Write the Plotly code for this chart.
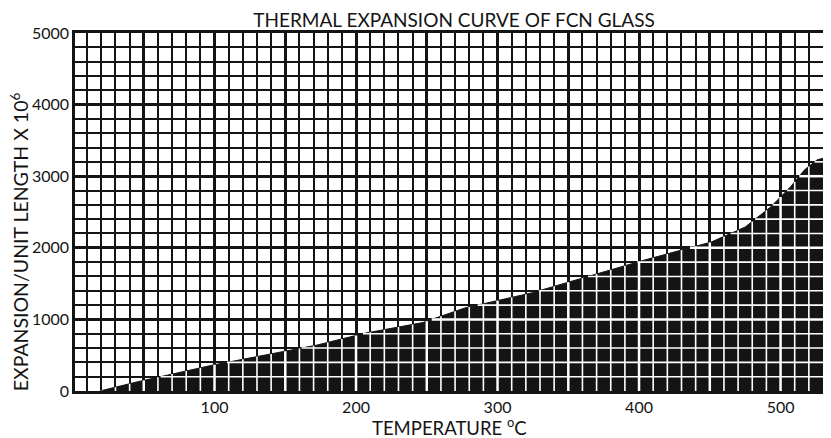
import numpy as np
import plotly.graph_objects as go

# ---- data ----
temperature_c = [19, 45, 99, 151, 172, 207, 247, 252, 277, 324, 357, 404, 451, 475, 493, 507, 517, 526, 530]
expansion = [0, 126, 363, 560, 640, 810, 955, 990, 1160, 1370, 1560, 1830, 2080, 2290, 2570, 2850, 3090, 3230, 3250]

x_tick_vals = [0, 50, 100, 150, 200, 250, 300, 350, 400, 450, 500]
x_tick_text = ["", "", "100", "", "200", "", "300", "", "400", "", "500"]
y_tick_vals = [0, 1000, 2000, 3000, 4000, 5000]
y_tick_text = ["0", "1000", "2000", "3000", "4000", "5000"]

X_MIN, X_MAX = 1.4, 530
Y_MAX = 5000
X_MINOR, Y_MINOR = 10, 200

FONT = "Lato, 'Open Sans', sans-serif"
INK = "#141414"

fig = go.Figure()

# black area under the expansion curve
fig.add_trace(go.Scatter(
    x=temperature_c, y=expansion, mode="lines",
    line=dict(color=INK, width=1), fill="tozeroy", fillcolor=INK,
    hoverinfo="skip", showlegend=False))

# white grid lines visible inside the black area (derived from the data via interpolation)
t_arr = np.array(temperature_c, dtype=float)
e_arr = np.array(expansion, dtype=float)

def add_white(xs, ys, w):
    fig.add_trace(go.Scatter(x=xs, y=ys, mode="lines",
                             line=dict(color="white", width=w),
                             hoverinfo="skip", showlegend=False))

vx_min, vy_min, vx_maj, vy_maj = [], [], [], []
for gx in np.arange(X_MINOR, X_MAX, X_MINOR):
    if gx < t_arr[0]:
        continue
    top = float(np.interp(gx, t_arr, e_arr))
    if top <= 0:
        continue
    if gx % 50 == 0:
        vx_maj += [gx, gx, None]; vy_maj += [0, top, None]
    else:
        vx_min += [gx, gx, None]; vy_min += [0, top, None]

hx_min, hy_min, hx_maj, hy_maj = [], [], [], []
for gy in np.arange(Y_MINOR, e_arr.max(), Y_MINOR):
    start = float(np.interp(gy, e_arr, t_arr))
    if gy % 1000 == 0:
        hx_maj += [start, X_MAX, None]; hy_maj += [gy, gy, None]
    else:
        hx_min += [start, X_MAX, None]; hy_min += [gy, gy, None]

add_white(vx_min, vy_min, 1.6)
add_white(hx_min, hy_min, 1.6)
add_white(vx_maj, vy_maj, 2.5)
add_white(hx_maj, hy_maj, 2.5)

# the page body has an 8px margin, so the figure is 8px smaller than the window on each axis
fig.update_layout(
    width=823, height=430,
    margin=dict(l=67, r=5, t=25, b=47),
    paper_bgcolor="white", plot_bgcolor="white",
    font=dict(family=FONT, color=INK, size=16),
    title=dict(text="THERMAL EXPANSION CURVE OF FCN GLASS", x=0.542, xanchor="center",
               y=0.971, yanchor="middle", font=dict(size=19, family=FONT, color=INK)),
    showlegend=False,
)

fig.update_xaxes(
    range=[X_MIN, X_MAX], tickmode="array", tickvals=x_tick_vals, ticktext=x_tick_text,
    showgrid=True, gridcolor=INK, gridwidth=2.6,
    minor=dict(dtick=X_MINOR, tick0=0, showgrid=True, gridcolor=INK, gridwidth=1.8),
    showline=True, linecolor=INK, linewidth=2.5, mirror=True,
    ticks="", zeroline=False, tickfont=dict(size=16),
)
fig.update_yaxes(
    range=[0, Y_MAX], tickmode="array", tickvals=y_tick_vals, ticktext=y_tick_text,
    showgrid=True, gridcolor=INK, gridwidth=2.6,
    minor=dict(dtick=Y_MINOR, tick0=0, showgrid=True, gridcolor=INK, gridwidth=1.8),
    showline=True, linecolor=INK, linewidth=2.5, mirror=True,
    ticks="", zeroline=False, tickfont=dict(size=16),
)

fig.add_annotation(text="TEMPERATURE <sup>o</sup>C", xref="paper", yref="paper",
                   x=0.5, y=-0.10, xanchor="center", yanchor="middle",
                   showarrow=False, font=dict(size=18.5, family=FONT, color=INK))
fig.add_annotation(text="EXPANSION/UNIT LENGTH X 10<sup>6</sup>", xref="paper", yref="paper",
                   x=-0.0746, y=0.416, xanchor="center", yanchor="middle", textangle=-90,
                   showarrow=False, font=dict(size=19.5, family=FONT, color=INK))

fig.write_html("out.html")
